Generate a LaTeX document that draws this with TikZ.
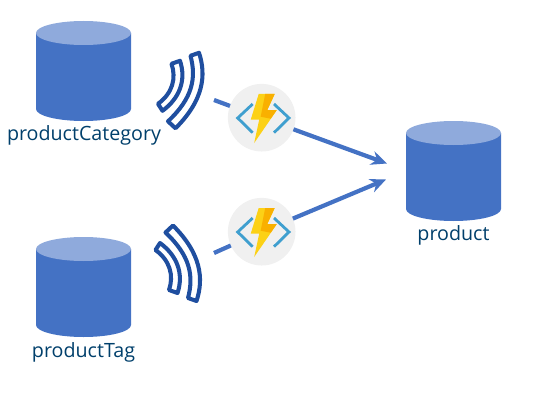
\documentclass[tikz,border=0pt]{standalone}
\usepackage{fontspec}
\setmainfont{Open Sans}
\usetikzlibrary{arrows.meta}
\definecolor{dbbody}{HTML}{4472C4}
\definecolor{dbtop}{HTML}{8FAADC}
\definecolor{labelblue}{HTML}{003F6B}
\definecolor{wavecol}{HTML}{1F4E9F}
\definecolor{fncircle}{HTML}{F0F0F0}
\definecolor{fnchevron}{HTML}{3F9FCF}
\definecolor{boltyellow}{HTML}{FCD116}
\definecolor{boltorange}{HTML}{F9B000}
\tikzset{
  dblabel/.style={text=labelblue, font=\fontsize{11.2pt}{14pt}\selectfont, inner sep=0pt},
  fnnode/.style={circle, fill=fncircle, minimum size=38.5pt, inner sep=0pt, outer sep=0pt},
  flow/.style={draw=dbbody, line width=2.4pt},
  flowarrow/.style={flow, -{Stealth[length=9pt,width=8pt]}},
  wavestroke/.style={draw=wavecol, line width=2.3pt, line join=round},
  dbpic/.pic={
    \fill[dbbody] (-47.5,-38) -- (-47.5,38) arc (180:0:47.5 and 12) -- (47.5,-38) -- cycle;
    \fill[dbtop] (0,-38) ellipse (47.5 and 12);
  },
  wavepic/.pic={
    \draw[wavestroke]
      (10,-34.5) -- (18.5,-37.5) .. controls (26,-15) and (23,10) .. (-5,38)
      -- (-12.5,31) .. controls (12,8) and (16,-12) .. cycle;
    \draw[wavestroke]
      (-9,-26.5) -- (-0.5,-29.5) .. controls (6,-10) and (-1,8) .. (-18,20.5)
      -- (-22.5,13.5) .. controls (-8,3) and (-4,-12) .. cycle;
  },
  fnpic/.pic={
    \draw[fnchevron, line width=1.6pt] (-9,-13.7) -- (-24,0.3) -- (-9,15);
    \draw[fnchevron, line width=1.6pt] (12.3,-13.7) -- (27.3,0.3) -- (12.3,15);
    \fill[boltyellow] (-3,-23.7) -- (13,-23.7) -- (5.5,-7.5) -- (15,-7.5) -- (-7.5,25.3) -- (-2.5,2) -- (-11,2) -- cycle;
    \fill[boltorange] (3.5,-23.7) -- (13,-23.7) -- (5.5,-7.5) -- (15,-7.5) -- (9,1) -- (-1,-1) -- cycle;
  }
}
\begin{document}
\begin{tikzpicture}[x=0.02cm, y=-0.02cm]
  \useasboundingbox (0,0) rectangle (537,402);
  % databases
  \pic at (83.5,71) {dbpic};
  \pic at (83.5,287) {dbpic};
  \pic at (453.5,171) {dbpic};
  \node[dblabel] (catlabel) at (84,135.5) {productCategory};
  \node[dblabel] (taglabel) at (83.5,352.5) {productTag};
  \node[dblabel] (prodlabel) at (453.5,235.5) {product};
  % waves
  \pic at (180.5,90.3) {wavepic};
  \pic[yscale=-1] at (178,263.5) {wavepic};
  % functions
  \node[fnnode] (catfn) at (261.7,117.7) {};
  \node[fnnode] (tagfn) at (261.7,231.7) {};
  \pic at (261.7,117.7) {fnpic};
  \pic at (261.7,231.7) {fnpic};
  % connectors
  \coordinate (catout) at (214,100);
  \coordinate (tagout) at (214,253);
  \coordinate (produp) at (387,163.5);
  \coordinate (proddown) at (386,179.5);
  \draw[flow] (catout) -- (catfn);
  \draw[flow] (tagout) -- (tagfn);
  \draw[flowarrow] (catfn) -- (produp);
  \draw[flowarrow] (tagfn) -- (proddown);
\end{tikzpicture}
\end{document}
